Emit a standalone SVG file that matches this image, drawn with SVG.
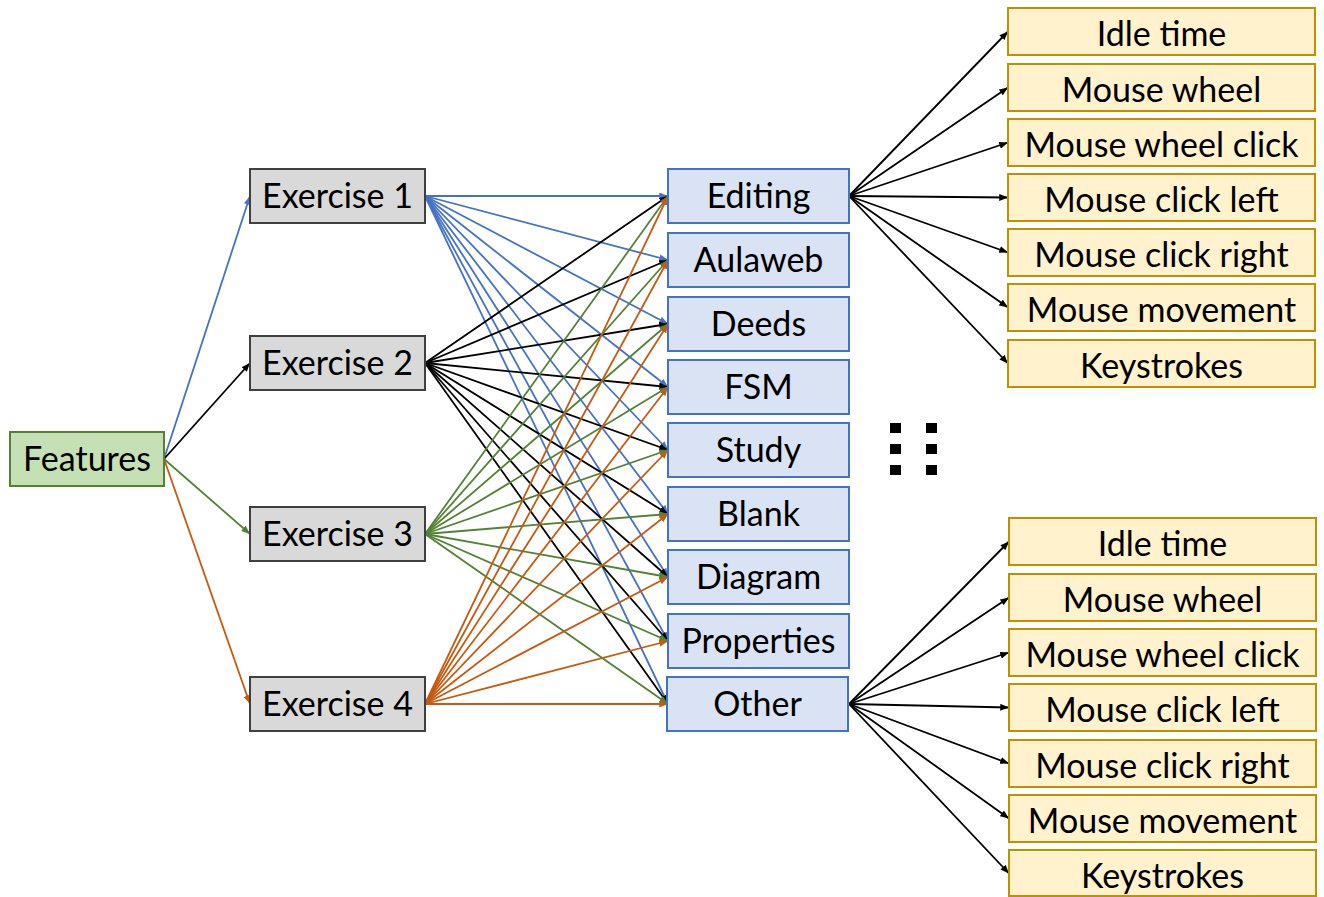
<svg xmlns="http://www.w3.org/2000/svg" width="1324" height="897" viewBox="0 0 1324 897">
<style>
text{font-family:Lato,"Open Sans","Liberation Sans",sans-serif;font-size:34px;fill:#000;text-anchor:middle}
.feat{fill:#c5e0b4;stroke:#548235;stroke-width:2}
.ex{fill:#d9d9d9;stroke:#404040;stroke-width:2}
.cat{fill:#dae3f3;stroke:#4472c4;stroke-width:2}
.leaf{fill:#fff2cc;stroke:#bf9000;stroke-width:2}
.cb{stroke:#4472c4;stroke-width:1.8;fill:none;marker-end:url(#mb)}
.ck{stroke:#000;stroke-width:1.8;fill:none;marker-end:url(#mk)}
.cg{stroke:#548235;stroke-width:1.8;fill:none;marker-end:url(#mg)}
.co{stroke:#c55a11;stroke-width:1.8;fill:none;marker-end:url(#mo)}
</style>
<defs>
<marker id="mb" viewBox="0 0 10 8" refX="10" refY="4" markerWidth="9" markerHeight="7" orient="auto" markerUnits="userSpaceOnUse"><path d="M0,0 L10,4 L0,8 z" fill="#4472c4"/></marker>
<marker id="mk" viewBox="0 0 10 8" refX="10" refY="4" markerWidth="9" markerHeight="7" orient="auto" markerUnits="userSpaceOnUse"><path d="M0,0 L10,4 L0,8 z" fill="#000"/></marker>
<marker id="mg" viewBox="0 0 10 8" refX="10" refY="4" markerWidth="9" markerHeight="7" orient="auto" markerUnits="userSpaceOnUse"><path d="M0,0 L10,4 L0,8 z" fill="#548235"/></marker>
<marker id="mo" viewBox="0 0 10 8" refX="10" refY="4" markerWidth="9" markerHeight="7" orient="auto" markerUnits="userSpaceOnUse"><path d="M0,0 L10,4 L0,8 z" fill="#c55a11"/></marker>
</defs>
<rect width="1324" height="897" fill="#fff"/>
<g id="connectors">
<g class="cb"><line x1="164" y1="459" x2="250" y2="196"/></g>
<g class="ck"><line x1="164" y1="459" x2="250" y2="363"/></g>
<g class="cg"><line x1="164" y1="459" x2="250" y2="534"/></g>
<g class="co"><line x1="164" y1="459" x2="250" y2="704"/></g>
<g class="cb">
<line x1="425" y1="196" x2="668" y2="196"/><line x1="425" y1="196" x2="668" y2="260"/><line x1="425" y1="196" x2="668" y2="324"/><line x1="425" y1="196" x2="668" y2="387"/><line x1="425" y1="196" x2="668" y2="450"/><line x1="425" y1="196" x2="668" y2="514"/><line x1="425" y1="196" x2="668" y2="577"/><line x1="425" y1="196" x2="668" y2="641"/><line x1="425" y1="196" x2="668" y2="704"/>
</g>
<g class="ck">
<line x1="425" y1="363" x2="668" y2="196"/><line x1="425" y1="363" x2="668" y2="260"/><line x1="425" y1="363" x2="668" y2="324"/><line x1="425" y1="363" x2="668" y2="387"/><line x1="425" y1="363" x2="668" y2="450"/><line x1="425" y1="363" x2="668" y2="514"/><line x1="425" y1="363" x2="668" y2="577"/><line x1="425" y1="363" x2="668" y2="641"/><line x1="425" y1="363" x2="668" y2="704"/>
</g>
<g class="cg">
<line x1="425" y1="534" x2="668" y2="196"/><line x1="425" y1="534" x2="668" y2="260"/><line x1="425" y1="534" x2="668" y2="324"/><line x1="425" y1="534" x2="668" y2="387"/><line x1="425" y1="534" x2="668" y2="450"/><line x1="425" y1="534" x2="668" y2="514"/><line x1="425" y1="534" x2="668" y2="577"/><line x1="425" y1="534" x2="668" y2="641"/><line x1="425" y1="534" x2="668" y2="704"/>
</g>
<g class="co">
<line x1="425" y1="704" x2="668" y2="196"/><line x1="425" y1="704" x2="668" y2="260"/><line x1="425" y1="704" x2="668" y2="324"/><line x1="425" y1="704" x2="668" y2="387"/><line x1="425" y1="704" x2="668" y2="450"/><line x1="425" y1="704" x2="668" y2="514"/><line x1="425" y1="704" x2="668" y2="577"/><line x1="425" y1="704" x2="668" y2="641"/><line x1="425" y1="704" x2="668" y2="704"/>
</g>
<g class="ck">
<line x1="849" y1="196" x2="1008" y2="31.5"/><line x1="849" y1="196" x2="1008" y2="87.5"/><line x1="849" y1="196" x2="1008" y2="142.5"/><line x1="849" y1="196" x2="1008" y2="197.5"/><line x1="849" y1="196" x2="1008" y2="252.5"/><line x1="849" y1="196" x2="1008" y2="307.5"/><line x1="849" y1="196" x2="1008" y2="363.5"/>
<line x1="849" y1="704" x2="1009" y2="541.5"/><line x1="849" y1="704" x2="1009" y2="597.5"/><line x1="849" y1="704" x2="1009" y2="652.5"/><line x1="849" y1="704" x2="1009" y2="707.5"/><line x1="849" y1="704" x2="1009" y2="763.5"/><line x1="849" y1="704" x2="1009" y2="818.5"/><line x1="849" y1="704" x2="1009" y2="873.5"/>
</g>
</g>
<g id="features"><rect class="feat" x="10" y="432" width="154" height="54"/><text x="87" y="471">Features</text></g>
<g id="ex1"><rect class="ex" x="250" y="169" width="175" height="54"/><text x="337.5" y="208">Exercise 1</text></g>
<g id="ex2"><rect class="ex" x="250" y="336" width="175" height="54"/><text x="337.5" y="375">Exercise 2</text></g>
<g id="ex3"><rect class="ex" x="250" y="507" width="175" height="54"/><text x="337.5" y="546">Exercise 3</text></g>
<g id="ex4"><rect class="ex" x="250" y="677" width="175" height="54"/><text x="337.5" y="716">Exercise 4</text></g>
<g id="editing"><rect class="cat" x="668" y="169" width="181" height="54"/><text x="758.5" y="208">Editing</text></g>
<g id="aulaweb"><rect class="cat" x="668" y="233" width="181" height="54"/><text x="758.5" y="272">Aulaweb</text></g>
<g id="deeds"><rect class="cat" x="668" y="297" width="181" height="54"/><text x="758.5" y="336">Deeds</text></g>
<g id="fsm"><rect class="cat" x="668" y="360" width="181" height="54"/><text x="758.5" y="399">FSM</text></g>
<g id="study"><rect class="cat" x="668" y="423" width="181" height="54"/><text x="758.5" y="462">Study</text></g>
<g id="blank"><rect class="cat" x="668" y="487" width="181" height="54"/><text x="758.5" y="526">Blank</text></g>
<g id="diagram"><rect class="cat" x="668" y="550" width="181" height="54"/><text x="758.5" y="589">Diagram</text></g>
<g id="properties"><rect class="cat" x="668" y="614" width="181" height="54"/><text x="758.5" y="653">Properties</text></g>
<g id="other"><rect class="cat" x="667" y="677" width="181" height="54"/><text x="757.5" y="716">Other</text></g>
<g id="top-idle"><rect class="leaf" x="1008" y="8" width="307" height="47"/><text x="1161.5" y="46">Idle time</text></g>
<g id="top-wheel"><rect class="leaf" x="1008" y="64" width="307" height="47"/><text x="1161.5" y="102">Mouse wheel</text></g>
<g id="top-wheelclick"><rect class="leaf" x="1008" y="119" width="307" height="47"/><text x="1161.5" y="157">Mouse wheel click</text></g>
<g id="top-left"><rect class="leaf" x="1008" y="174" width="307" height="47"/><text x="1161.5" y="212">Mouse click left</text></g>
<g id="top-right"><rect class="leaf" x="1008" y="229" width="307" height="47"/><text x="1161.5" y="267">Mouse click right</text></g>
<g id="top-move"><rect class="leaf" x="1008" y="284" width="307" height="47"/><text x="1161.5" y="322">Mouse movement</text></g>
<g id="top-keys"><rect class="leaf" x="1008" y="340" width="307" height="47"/><text x="1161.5" y="378">Keystrokes</text></g>
<g id="bot-idle"><rect class="leaf" x="1009" y="518" width="307" height="47"/><text x="1162.5" y="556">Idle time</text></g>
<g id="bot-wheel"><rect class="leaf" x="1009" y="574" width="307" height="47"/><text x="1162.5" y="612">Mouse wheel</text></g>
<g id="bot-wheelclick"><rect class="leaf" x="1009" y="629" width="307" height="47"/><text x="1162.5" y="667">Mouse wheel click</text></g>
<g id="bot-left"><rect class="leaf" x="1009" y="684" width="307" height="47"/><text x="1162.5" y="722">Mouse click left</text></g>
<g id="bot-right"><rect class="leaf" x="1009" y="740" width="307" height="47"/><text x="1162.5" y="778">Mouse click right</text></g>
<g id="bot-move"><rect class="leaf" x="1009" y="795" width="307" height="47"/><text x="1162.5" y="833">Mouse movement</text></g>
<g id="bot-keys"><rect class="leaf" x="1009" y="850" width="307" height="46"/><text x="1162.5" y="888">Keystrokes</text></g>
<g id="ellipsis" fill="#000">
<rect x="890" y="423" width="11" height="10"/><rect x="926" y="423" width="11" height="10"/>
<rect x="890" y="444" width="11" height="10"/><rect x="926" y="444" width="11" height="10"/>
<rect x="890" y="465" width="11" height="10"/><rect x="926" y="465" width="11" height="10"/>
</g>
</svg>
